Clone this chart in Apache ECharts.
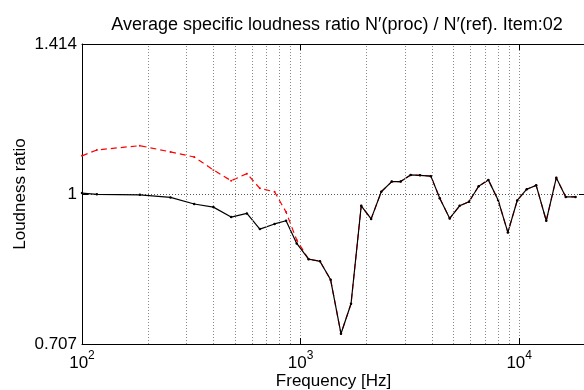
<!DOCTYPE html>
<html>
<head>
<meta charset="utf-8">
<script src="https://cdn.jsdelivr.net/npm/echarts@6/dist/echarts.min.js"></script>
<style>html,body{margin:0;padding:0;background:#fff}#c{width:584px;height:390px}</style>
</head>
<body>
<div id="c"></div>
<script>
// ---- data ----
const freqs = [100, 117, 184, 254, 326, 399, 481, 568, 651, 760, 858, 960, 1088, 1226, 1372, 1530, 1701, 1894, 2102, 2339, 2612, 2870, 3187, 3514, 3943, 4331, 4810, 5339, 5890, 6525, 7226, 8006, 8875, 9795, 10830, 11960, 13300, 14780, 16330, 18090];
const ratioSolid = [1.002, 0.999, 0.998, 0.992, 0.977, 0.970, 0.948, 0.956, 0.922, 0.933, 0.940, 0.892, 0.860, 0.856, 0.820, 0.724, 0.776, 0.973, 0.944, 1.005, 1.029, 1.029, 1.045, 1.044, 1.042, 0.990, 0.945, 0.973, 0.982, 1.018, 1.033, 0.986, 0.915, 0.985, 1.011, 1.020, 0.940, 1.038, 0.993, 0.993];
const ratioDashed = [1.092, 1.107, 1.118, 1.102, 1.089, 1.057, 1.031, 1.048, 1.013, 1.005, 0.959, 0.899, 0.860, 0.856, 0.820, 0.724, 0.776, 0.973, 0.944, 1.005, 1.029, 1.029, 1.045, 1.044, 1.042, 0.990, 0.945, 0.973, 0.982, 1.018, 1.033, 0.986, 0.915, 0.985, 1.011, 1.020, 0.940, 1.038, 0.993, 0.993];
const minorGrid = [200, 300, 400, 500, 600, 700, 800, 900, 2000, 3000, 4000, 5000, 6000, 7000, 8000, 9000];
const yMin = 0.707, yMax = 1.414;
const xMin = 100, xMax = 20000;

const FONT = "'Liberation Sans', Arial, Helvetica, sans-serif";
const chart = echarts.init(document.getElementById('c'), null, {renderer: 'canvas'});
const dotted = {type: [1, 2], color: '#888', width: 1};

const common = {
  axisLine: {show: true, onZero: false, lineStyle: {color: '#000', width: 1}},
  axisTick: {show: true, inside: true, length: 6, lineStyle: {color: '#000'}},
};

chart.setOption({
  animation: false,
  backgroundColor: '#fff',
  textStyle: {fontFamily: FONT},
  title: {
    text: 'Average specific loudness ratio N\u2032(proc) / N\u2032(ref). Item:02',
    left: 332, top: 11, textAlign: 'center',
    textStyle: {fontFamily: FONT, fontSize: 18, fontWeight: 'normal', color: '#000'}
  },
  grid: {left: 82, right: -1, top: 44, bottom: 46, outerBoundsMode: 'none'},
  xAxis: [
    Object.assign({
      type: 'log', logBase: 10, min: xMin, max: xMax, position: 'bottom',
      name: 'Frequency [Hz]', nameLocation: 'middle', nameGap: 29, nameMoveOverlap: false,
      nameTextStyle: {fontFamily: FONT, fontSize: 17, color: '#000'},
      axisLabel: {
        show: true, margin: 6, color: '#000', showMaxLabel: false,
        formatter: v => '{b|10}{s|' + Math.round(Math.log10(v)) + '}',
        rich: {
          b: {fontFamily: FONT, fontSize: 17, color: '#000', verticalAlign: 'bottom'},
          s: {fontFamily: FONT, fontSize: 12, color: '#000', verticalAlign: 'bottom', padding: [0, 0, 10, 0]}
        }
      },
      splitLine: {show: true, lineStyle: dotted}
    }, common),
    Object.assign({
      type: 'log', logBase: 10, min: xMin, max: xMax, position: 'top',
      axisLabel: {show: false}, splitLine: {show: false}
    }, common)
  ],
  yAxis: [
    Object.assign({
      type: 'log', logBase: 2, min: yMin, max: yMax, position: 'left',
      name: 'Loudness ratio', nameLocation: 'middle', nameGap: 53, nameMoveOverlap: false,
      nameTextStyle: {fontFamily: FONT, fontSize: 17, color: '#000'},
      axisLabel: {show: true, margin: 5, color: '#000', fontSize: 17, fontFamily: FONT,
        formatter: v => (Math.abs(v - 1) < 1e-6 ? '1' : v.toFixed(3))},
      splitLine: {show: true, lineStyle: {type: [1, 2], color: '#555', width: 1}}
    }, common),
    Object.assign({
      type: 'log', logBase: 2, min: yMin, max: yMax, position: 'right',
      axisLabel: {show: false}, splitLine: {show: false}
    }, common)
  ],
  series: [
    {
      type: 'line', xAxisIndex: 0, yAxisIndex: 0,
      data: freqs.map((f, i) => [f, ratioDashed[i]]),
      symbol: 'circle', symbolSize: 2, showSymbol: true,
      itemStyle: {color: '#ff0000'},
      lineStyle: {color: '#ff0000', width: 1.2, type: [6, 4]},
      z: 3, silent: true,
      markLine: {
        silent: true, symbol: 'none', label: {show: false},
        lineStyle: dotted, animation: false,
        data: minorGrid.map(v => ({xAxis: v}))
      }
    },
    {
      type: 'line', xAxisIndex: 0, yAxisIndex: 0,
      data: freqs.map((f, i) => [f, ratioSolid[i]]),
      symbol: 'circle', symbolSize: 2.5, showSymbol: true,
      itemStyle: {color: '#000'},
      lineStyle: {color: '#000', width: 1.2},
      z: 4, silent: true
    }
  ]
});
</script>
</body>
</html>
